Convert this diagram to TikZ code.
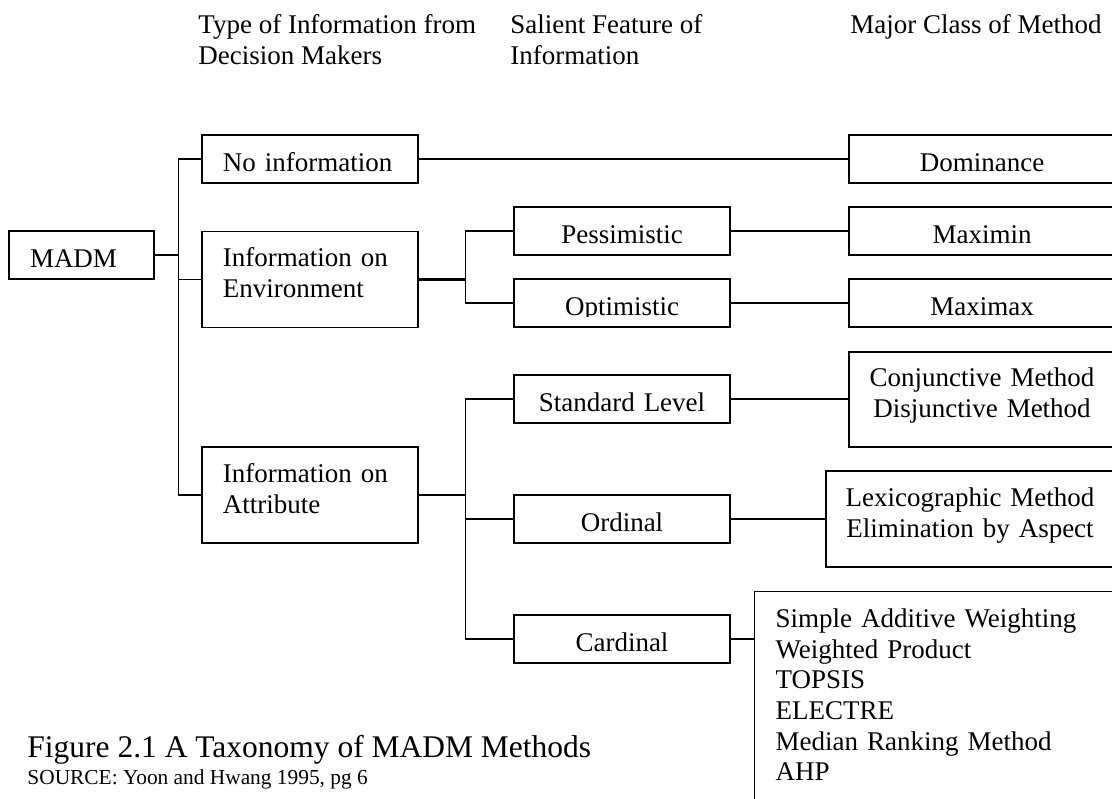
\documentclass[tikz,border=0pt]{standalone}
\usepackage{fontspec}
\setmainfont{Liberation Serif}
\usepackage{xcolor}
\usetikzlibrary{positioning,calc}
\definecolor{taxLine}{RGB}{0,0,0}
\definecolor{taxText}{RGB}{0,0,0}
\newcommand{\firstline}{\rule{0pt}{0.353cm}}
\newcommand{\lastline}{\rule[-0.266cm]{0pt}{0pt}}
\newcommand{\listtop}{\rule{0pt}{0.4375cm}}
\newcommand{\listend}{\rule[-0.47cm]{0pt}{0pt}}
\tikzset{
  taxbox/.style={rectangle, draw=taxLine, fill=white, line width=0.6pt,
    inner xsep=0.328cm, inner ysep=1pt, text=taxText,
    font=\fontsize{12}{13.6}\selectfont},
  oneline/.style={text height=0.4375cm, text depth=0.0625cm, minimum height=0.75cm},
  twoline/.style={minimum height=1.5cm},
  madmbox/.style={taxbox, oneline, align=left, text width=1.609cm},
  infobox/.style={taxbox, align=left, text width=2.719cm},
  featurebox/.style={taxbox, oneline, align=center, text width=2.719cm},
  methodbox/.style={taxbox, align=center, inner xsep=0.1cm, text width=3.956cm},
  methodlist/.style={taxbox, align=left, text width=5.25cm, inner ysep=0.125cm, anchor=north west},
  headlabel/.style={anchor=north west, inner sep=0pt, align=left, text=taxText,
    font=\fontsize{12}{13.6}\selectfont},
  captionlabel/.style={anchor=base west, inner sep=0pt, text=taxText},
  branchline/.style={draw=taxLine, line width=0.55pt},
  stemline/.style={draw=taxLine, line width=1.1pt},
}

\begin{document}
\begin{tikzpicture}[x=0.015625cm, y=-0.015625cm]
  \path[use as bounding box, fill=white] (0,0) rectangle (1112,798);
  \clip (0,0) rectangle (1112,798);

  % column heads
  \node[headlabel] (hdtype) at (198,10.4) {\firstline Type of Information from\\Decision Makers};
  \node[headlabel] (hdfeature) at (510,10.4) {\firstline Salient Feature of\\Information};
  \node[headlabel] (hdclass) at (850,10.4) {\firstline Major Class of Method};

  \node[madmbox] (madm) at (81.5,255) {MADM};

  \node[infobox, oneline] (noinfo) at (310,159) {No information};
  \node[infobox, twoline] (env) at (310,279.5) {\firstline Information on\\Environment\lastline};
  \node[infobox, twoline] (attr) at (310,495) {\firstline Information on\\Attribute\lastline};

  \node[featurebox] (pess) at (622,231) {Pessimistic};
  \node[featurebox] (opt) at (622,303) {};
  \begin{scope}
    \clip (opt.north west) rectangle (730,316.5);
    \node[featurebox, draw=none, fill=none] (optword) at (opt.center) {Optimistic};
  \end{scope}
  \node[featurebox] (std) at (622,399) {Standard Level};
  \node[featurebox] (ord) at (622,519) {Ordinal};
  \node[featurebox] (card) at (622,639) {Cardinal};

  \node[methodbox, oneline] (dom) at (982,159) {Dominance};
  \node[methodbox, oneline] (maximin) at (982,231) {Maximin};
  \node[methodbox, oneline] (maximax) at (982,303) {Maximax};
  \node[methodbox, twoline, minimum height=1.484cm] (conj) at (982,399.5)
    {\firstline Conjunctive Method\\Disjunctive Method\lastline};
  \node[methodbox, twoline, text width=4.3cm] (lex) at (970,519)
    {\firstline Lexicographic Method\\Elimination by Aspect\lastline};
  \node[methodlist] (cardlist) at (754,591)
    {\listtop Simple Additive Weighting\\Weighted Product\\TOPSIS\\ELECTRE\\Median Ranking Method\\AHP\listend};

  % tree lines
  \draw[stemline] (madm.east) -- ++(24,0) coordinate (madmfork);
  \draw[branchline] (madmfork) |- (noinfo.west);
  \draw[branchline] (madmfork) |- (env.west);
  \draw[branchline] (madmfork) |- (attr.west);

  \draw[stemline] (env.east) -- ++(47,0) coordinate (envfork);
  \draw[branchline] (envfork) |- (pess.west);
  \draw[branchline] (envfork) |- (opt.west);

  \draw[stemline] (attr.east) -- ++(47,0) coordinate (attrfork);
  \draw[branchline] (attrfork) |- (std.west);
  \draw[branchline] (attrfork) |- (ord.west);
  \draw[branchline] (attrfork) |- (card.west);

  \draw[branchline] (noinfo.east) -- (dom.west);
  \draw[branchline] (pess.east) -- (maximin.west);
  \draw[branchline] (opt.east) -- (maximax.west);
  \draw[branchline] (std.east) -- (std.east -| conj.west);
  \draw[branchline] (ord.east) -- (lex.west);
  \draw[branchline] (card.east) -- (card.east -| cardlist.west);

  \node[captionlabel, font=\fontsize{14}{16}\selectfont] (figcap) at (27,757)
    {Figure 2.1 A Taxonomy of MADM Methods};
  \node[captionlabel, font=\fontsize{9.5}{11}\selectfont] (figsource) at (27,784)
    {SOURCE: Yoon and Hwang 1995, pg 6};
\end{tikzpicture}
\end{document}
